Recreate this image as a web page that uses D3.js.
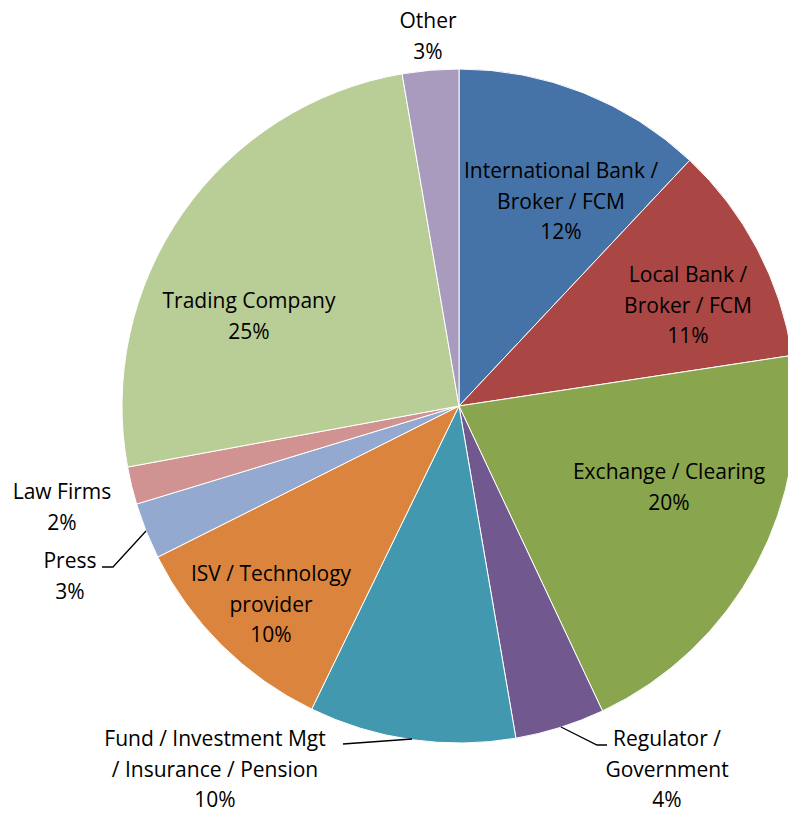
<!DOCTYPE html>
<html>
<head>
<meta charset="utf-8">
<script src="https://cdn.jsdelivr.net/npm/d3@7"></script>
<style>
  body { margin: 0; background: #fff; }
  svg text { font-family: "Open Sans", Lato, sans-serif; font-size: 21px; fill: #000; }
</style>
</head>
<body>
<div id="pieChart"></div>
<script>
// data, clockwise from 12 o'clock
const categories = [
    "International Bank / Broker / FCM",
    "Local Bank / Broker / FCM",
    "Exchange / Clearing",
    "Regulator / Government",
    "Fund / Investment Mgt / Insurance / Pension",
    "ISV / Technology provider",
    "Press",
    "Law Firms",
    "Trading Company",
    "Other"
];
const shares = [12.0, 10.6, 20.4, 4.3, 9.9, 10.4, 2.7, 1.8, 25.2, 2.7];
const colors = ["#4572A7", "#AA4643", "#89A54E", "#71588F", "#4198AF",
                "#DB843D", "#93A9CF", "#D19392", "#B9CD96", "#A99BBD"];

// how each label wraps
const labelLines = [
    ["International Bank /", "Broker / FCM"],
    ["Local Bank /", "Broker / FCM"],
    ["Exchange / Clearing"],
    ["Regulator /", "Government"],
    ["Fund / Investment Mgt", "/ Insurance / Pension"],
    ["ISV / Technology", "provider"],
    ["Press"],
    ["Law Firms"],
    ["Trading Company"],
    ["Other"]
];

const width = 788, height = 813;
const cx = 459, cy = 406, radius = 337;

// label placement (center x, first line middle y), relative to pie center
const labelPos = [
    [102, -235], [229, -131], [210, 66], [208, 333], [-244, 333],
    [-188, 168], [-389, 155], [-397, 86], [-210, -105], [-31, -385]
];
// leader lines for outside labels, relative to pie center
const leaders = {
    3: [[102, 321], [138, 339], [148, 339]],
    4: [[-116, 338], [-47, 333]],
    6: [[-357, 161], [-346, 161], [-313, 125]]
};

const svg = d3.select("#pieChart").append("svg")
    .attr("width", width)
    .attr("height", height)
    .append("g")
    .attr("transform", `translate(${cx}, ${cy})`);

const pie = d3.pie().sort(null).value(d => d);
const arc = d3.arc().innerRadius(0).outerRadius(radius);

const arcs = pie(shares);

svg.selectAll(".slice")
    .data(arcs)
    .enter().append("path")
    .attr("class", "slice")
    .attr("d", arc)
    .style("fill", (d, i) => colors[i])
    .style("stroke", "#fff")
    .style("stroke-width", "1px");

const line = d3.line();
Object.keys(leaders).forEach(k => {
    svg.append("path")
        .attr("d", line(leaders[k]))
        .style("fill", "none")
        .style("stroke", "#000")
        .style("stroke-width", "1.3px");
});

const lineHeight = 30.3;
arcs.forEach((d, i) => {
    const lines = labelLines[i].concat([Math.round(shares[i]) + "%"]);
    const t = svg.append("text")
        .attr("text-anchor", "middle")
        .attr("x", labelPos[i][0])
        .attr("y", labelPos[i][1]);
    lines.forEach((s, j) => {
        t.append("tspan")
            .attr("x", labelPos[i][0])
            .attr("dy", j === 0 ? "0.35em" : lineHeight)
            .text(s);
    });
});
</script>
</body>
</html>
